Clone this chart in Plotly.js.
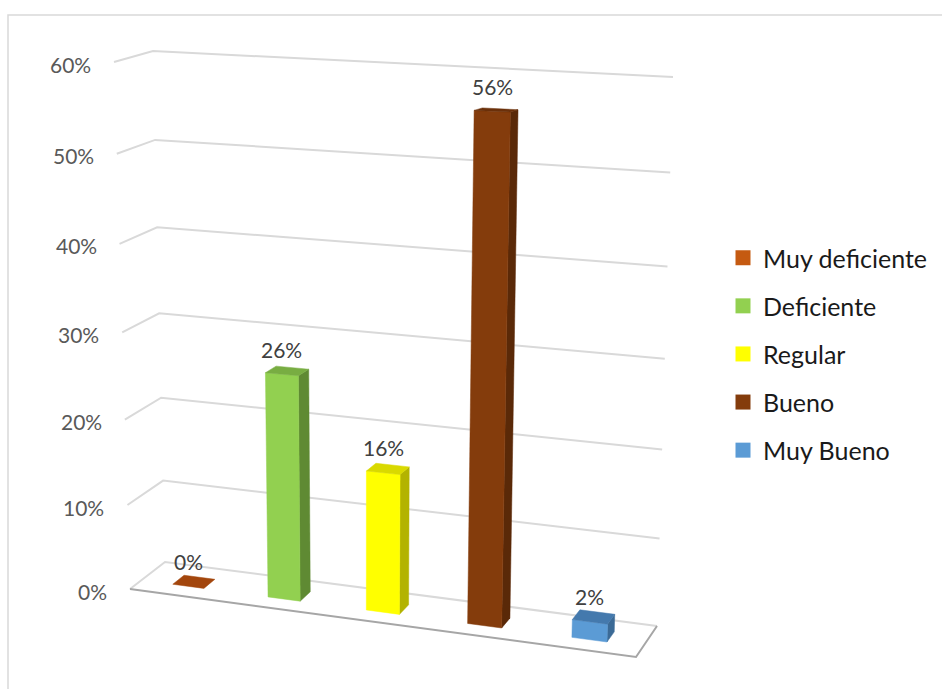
<!DOCTYPE html>
<html>
<head>
<meta charset="utf-8">
<script src="https://cdn.plot.ly/plotly-3.0.1.min.js"></script>
<style>html,body{margin:0;padding:0;background:#fff;}#chart{width:942px;height:689px;}</style>
</head>
<body>
<div id="chart"></div>
<script>
// ---- data ----
const categories = ['Muy deficiente', 'Deficiente', 'Regular', 'Bueno', 'Muy Bueno'];
const values = [0.00, 0.26, 0.16, 0.56, 0.02];
const valueLabels = ['0%', '26%', '16%', '56%', '2%'];
const tickValues = [0, 0.1, 0.2, 0.3, 0.4, 0.5, 0.6];
const tickLabels = ['0%', '10%', '20%', '30%', '40%', '50%', '60%'];
const frontColors = ['#c55a11', '#92d050', '#ffff00', '#843c0c', '#5b9bd5'];
const sideColors = ['#8a3f0c', '#5f8a33', '#b3b300', '#5a2908', '#3b6a96'];
const topColors = ['#a3460d', '#78ad42', '#d9d900', '#6b300a', '#4479ad'];

// ---- 3D-look projection (chart geometry) ----
const VMAX = 0.6;
const C = {
  FL0: [130, 589], BL0: [165, 562], FR0: [636, 657], BR0: [657, 626],
  FL1: [114, 62], BL1: [153, 51], FR1: [656, 80], BR1: [673, 77]
};
function warp(t) { return t + 0.053 * t * (t - 1); }
function uwarp(u) { return u + 0.075 * u * (u - 1); }
function lerp(a, b, f) { return [a[0] + (b[0] - a[0]) * f, a[1] + (b[1] - a[1]) * f]; }
function P(u, d, v) {
  const s = warp(v / VMAX), w = uwarp(u);
  const L0 = lerp(C.FL0, C.BL0, d), R0 = lerp(C.FR0, C.BR0, d);
  const L1 = lerp(C.FL1, C.BL1, d), R1 = lerp(C.FR1, C.BR1, d);
  return lerp(lerp(L0, R0, w), lerp(L1, R1, w), s);
}
function poly(pts, color, extra) {
  const x = pts.map(p => p[0]).concat([pts[0][0]]);
  const y = pts.map(p => p[1]).concat([pts[0][1]]);
  return Object.assign({
    type: 'scatter', mode: 'lines', x: x, y: y, fill: 'toself', fillcolor: color,
    line: {color: color, width: 0.5}, hoverinfo: 'skip', showlegend: false
  }, extra || {});
}
function line(pts, color, width) {
  return {type: 'scatter', mode: 'lines', x: pts.map(p => p[0]), y: pts.map(p => p[1]),
    line: {color: color, width: width}, hoverinfo: 'skip', showlegend: false};
}

const traces = [];
// floor
traces.push(poly([P(0,0,0), P(0,1,0), P(1,1,0), P(1,0,0)], '#ffffff', {line: {width: 0}}));
traces.push(line([P(0,0,0), P(0,1,0), P(1,1,0)], '#d9d9d9', 2));
traces.push(line([P(1,1,0), P(1,0,0), P(0,0,0)], '#a6a6a6', 2));
// gridlines on walls
tickValues.forEach(v => {
  if (v === 0) return;
  traces.push(line([P(0,0,v), P(0,1,v), P(1,1,v)], '#d9d9d9', 2));
});

// bars
const nCat = categories.length;
const hw = 0.033, d0 = 0.33, d1 = 0.66;
const annotations = [];
categories.forEach((c, i) => {
  const v = values[i];
  const uc = (i + 0.5) / nCat, u0 = uc - hw, u1 = uc + hw;
  if (v > 0) {
    traces.push(poly([P(u1,d0,0), P(u1,d1,0), P(u1,d1,v), P(u1,d0,v)], sideColors[i]));
    traces.push(poly([P(u0,d0,0), P(u1,d0,0), P(u1,d0,v), P(u0,d0,v)], frontColors[i]));
  }
  traces.push(poly([P(u0,d0,v), P(u1,d0,v), P(u1,d1,v), P(u0,d1,v)], topColors[i]));
  const lp = P(uc, d0, v);
  annotations.push({x: lp[0], y: lp[1], xref: 'x', yref: 'y', text: valueLabels[i], showarrow: false,
    xanchor: 'center', yanchor: 'middle', xshift: 0, yshift: 25,
    font: {family: 'Lato, sans-serif', size: 21, color: '#404040'}});
});
// legend entries
categories.forEach((c, i) => {
  traces.push({type: 'scatter', mode: 'markers', x: [null], y: [null], name: c, legendgroup: 'g' + i,
    marker: {symbol: 'square', size: 15, color: frontColors[i]}, hoverinfo: 'skip'});
});
// tick labels
tickValues.forEach((v, k) => {
  const p = P(0, 0, v);
  annotations.push({x: p[0], y: p[1], xref: 'x', yref: 'y', text: tickLabels[k], showarrow: false,
    xanchor: 'right', yanchor: 'middle', xshift: -21, yshift: -2,
    font: {family: 'Lato, sans-serif', size: 21, color: '#595959'}});
});

const layout = {
  width: 942, height: 689,
  margin: {l: 0, r: 0, t: 0, b: 0},
  paper_bgcolor: '#ffffff', plot_bgcolor: '#ffffff',
  xaxis: {range: [0, 942], visible: false, fixedrange: true},
  yaxis: {range: [689, 0], visible: false, fixedrange: true},
  showlegend: true,
  legend: {x: 723 / 942, y: 1 - 235 / 689, xanchor: 'left', yanchor: 'top',
    traceorder: 'grouped', tracegroupgap: 12.6,
    font: {family: 'Lato, sans-serif', size: 25, color: '#1a1a1a'}, bgcolor: 'rgba(0,0,0,0)'},
  annotations: annotations,
  shapes: [{type: 'rect', xref: 'x', yref: 'y', x0: 8, y0: 15, x1: 980, y1: 720,
    line: {color: '#d9d9d9', width: 1.5}, fillcolor: 'rgba(0,0,0,0)', layer: 'below'}]
};
Plotly.newPlot('chart', traces, layout, {displayModeBar: false, staticPlot: true});
</script>
</body>
</html>
